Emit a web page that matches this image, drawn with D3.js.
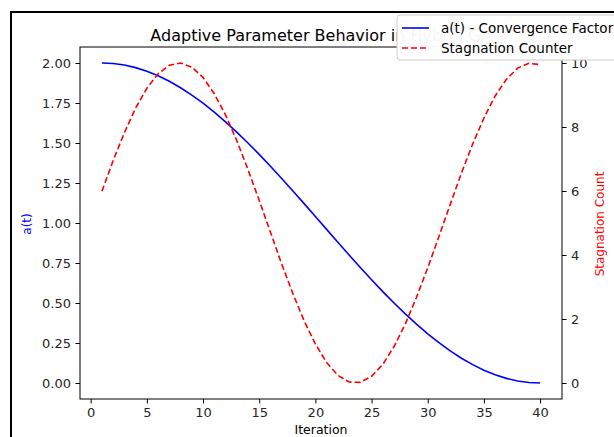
<!DOCTYPE html>
<html>
<head>
<meta charset="utf-8">
<script src="https://cdn.jsdelivr.net/npm/d3@7"></script>
<style>
  html, body { margin: 0; padding: 0; background: #fff; }
  svg { display: block; font-family: "DejaVu Sans", sans-serif; }
</style>
</head>
<body>
<svg id="chart" width="614" height="437"></svg>
<script>
// ---- data ----
const iterations = [1,2,3,4,5,6,7,8,9,10,11,12,13,14,15,16,17,18,19,20,
                    21,22,23,24,25,26,27,28,29,30,31,32,33,34,35,36,37,38,39,40];
const convergenceFactor = [2.000,1.997,1.987,1.971,1.949,1.920,1.886,1.845,1.799,1.749,
                           1.693,1.632,1.568,1.500,1.429,1.355,1.278,1.200,1.121,1.040,
                           0.960,0.880,0.800,0.722,0.645,0.571,0.500,0.432,0.368,0.307,
                           0.252,0.201,0.155,0.115,0.080,0.052,0.029,0.013,0.003,0.000];
const stagnationCounter = [5.99,6.95,7.82,8.59,9.21,9.66,9.93,10.00,9.87,9.55,
                           9.04,8.38,7.58,6.67,5.71,4.71,3.72,2.79,1.94,1.22,
                           0.64,0.24,0.03,0.02,0.21,0.58,1.14,1.84,2.68,3.60,
                           4.58,5.58,6.56,7.47,8.28,8.97,9.49,9.84,9.99,9.95];
const xTicks = [0,5,10,15,20,25,30,35,40];
const yLeftTicks = [0,0.25,0.5,0.75,1.0,1.25,1.5,1.75,2.0];
const yRightTicks = [0,2,4,6,8,10];
const titleText = "Adaptive Parameter Behavior in Hybrid GA";
const seriesNames = ["a(t) - Convergence Factor", "Stagnation Counter"];

// ---- layout ----
const svg = d3.select("#chart");
const L = 80, R = 562, T = 47, B = 399;
const fs = 13;
const tickColor = "#262626";

svg.append("rect").attr("width", 614).attr("height", 437).attr("fill", "#fff");

const x = d3.scaleLinear().domain([-0.95, 41.95]).range([L, R]);
const yL = d3.scaleLinear().domain([-0.1, 2.1]).range([B, T]);
const yR = d3.scaleLinear().domain([-0.5, 10.5]).range([B, T]);

function styleAxis(g) {
  g.select(".domain").remove();
  g.selectAll(".tick line").attr("stroke", "#000").attr("stroke-width", 1);
  g.selectAll(".tick text").attr("fill", tickColor)
    .style("font-size", fs + "px").style("font-family", "DejaVu Sans, sans-serif");
}

svg.append("g").attr("transform", `translate(0,${B})`)
  .call(d3.axisBottom(x).tickValues(xTicks).tickFormat(d3.format("d")).tickSize(4.5).tickPadding(4.5))
  .call(styleAxis);
svg.append("g").attr("transform", `translate(${L},0)`)
  .call(d3.axisLeft(yL).tickValues(yLeftTicks).tickFormat(d3.format(".2f")).tickSize(4.5).tickPadding(4.5))
  .call(styleAxis);
svg.append("g").attr("transform", `translate(${R},0)`)
  .call(d3.axisRight(yR).tickValues(yRightTicks).tickFormat(d3.format("d")).tickSize(4.5).tickPadding(4.5))
  .call(styleAxis);

// lines
const lineA = d3.line().x((d, i) => x(iterations[i])).y(d => yL(d));
const lineS = d3.line().x((d, i) => x(iterations[i])).y(d => yR(d));
const plot = svg.append("g");
plot.append("path").datum(convergenceFactor).attr("d", lineA)
  .attr("fill", "none").attr("stroke", "#0000ff").attr("stroke-width", 1.6);
plot.append("path").datum(stagnationCounter).attr("d", lineS)
  .attr("fill", "none").attr("stroke", "#ff0000").attr("stroke-width", 1.6)
  .attr("stroke-dasharray", "6,3");

// spines
svg.append("rect").attr("x", L).attr("y", T).attr("width", R - L).attr("height", B - T)
  .attr("fill", "none").attr("stroke", "#000").attr("stroke-width", 1);

// axis labels
svg.append("text").attr("x", (L + R) / 2).attr("y", 434).attr("text-anchor", "middle")
  .style("font-size", "12.5px").attr("fill", "#000").text("Iteration");
svg.append("text").attr("transform", "translate(31,224) rotate(-90)").attr("text-anchor", "middle")
  .style("font-size", "12px").attr("fill", "#0000ff").text("a(t)");
svg.append("text").attr("transform", "translate(604,224) rotate(-90)").attr("text-anchor", "middle")
  .style("font-size", "12px").attr("fill", "#ff0000").text("Stagnation Count");

// title
svg.append("text").attr("x", (L + R) / 2).attr("y", 41).attr("text-anchor", "middle")
  .style("font-size", "16px").attr("fill", "#000").text(titleText);

// legend
const lg = svg.append("g");
lg.append("rect").attr("x", 397).attr("y", 15).attr("width", 260).attr("height", 45)
  .attr("rx", 3).attr("fill", "#fff").attr("fill-opacity", 0.96)
  .attr("stroke", "#cccccc").attr("stroke-width", 1);
const legendRows = [
  {name: seriesNames[0], color: "#0000ff", dash: null, y: 28},
  {name: seriesNames[1], color: "#ff0000", dash: "6,3", y: 48}
];
legendRows.forEach(r => {
  lg.append("line").attr("x1", 402).attr("x2", 429).attr("y1", r.y).attr("y2", r.y)
    .attr("stroke", r.color).attr("stroke-width", 1.6)
    .attr("stroke-dasharray", r.dash);
  lg.append("text").attr("x", 441).attr("y", r.y + 4.7)
    .style("font-size", "13.5px").attr("fill", "#000").text(r.name);
});

// outer frame (screenshot border)
svg.append("rect").attr("x", 11).attr("y", 12).attr("width", 700).attr("height", 500)
  .attr("fill", "none").attr("stroke", "#000").attr("stroke-width", 2);
</script>
</body>
</html>
